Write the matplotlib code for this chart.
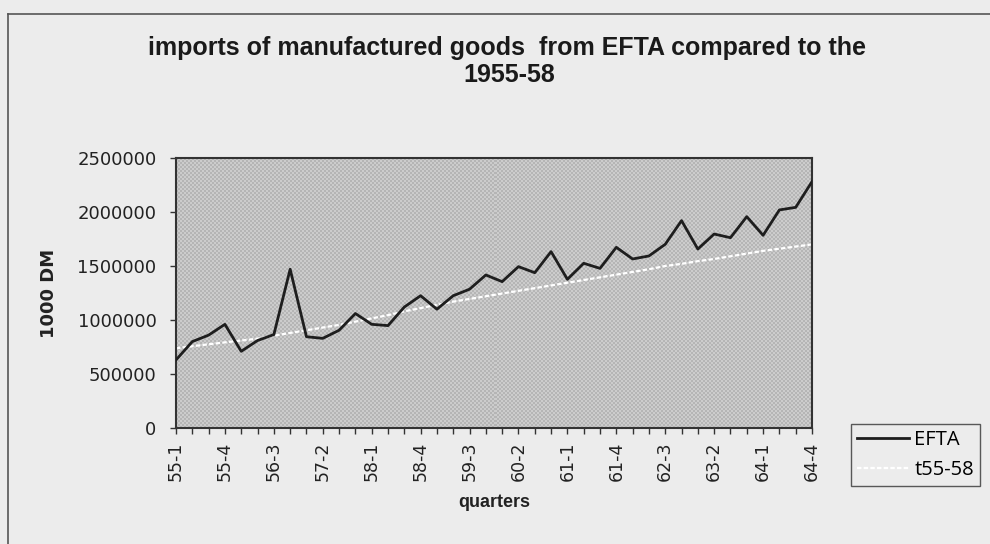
import numpy as np
import matplotlib.pyplot as plt
from matplotlib.lines import Line2D

# quarterly imports of manufactured goods from EFTA, 1000 DM
years = list(range(55, 65))
quarters = [f"{y}-{q}" for y in years for q in range(1, 5)]

efta = [630000, 800000, 860000, 960000, 710000, 810000, 865000, 1470000,
        845000, 830000, 905000, 1060000, 960000, 948000, 1120000, 1225000,
        1100000, 1225000, 1285000, 1417000, 1355000, 1494000, 1438000, 1633000,
        1377000, 1525000, 1478000, 1673000, 1565000, 1593000, 1701000, 1920000,
        1657000, 1796000, 1762000, 1957000, 1784000, 2019000, 2043000, 2281000]

# trend fitted on 1955-58
t55_58 = [738000, 757000, 775000, 793000, 810000, 827000, 855000, 880000,
          905000, 930000, 955000, 985000, 1015000, 1045000, 1080000, 1110000,
          1140000, 1170000, 1195000, 1220000, 1245000, 1270000, 1295000, 1320000,
          1345000, 1370000, 1395000, 1420000, 1445000, 1470000, 1500000, 1520000,
          1545000, 1565000, 1590000, 1615000, 1640000, 1660000, 1680000, 1700000]

yticks = [0, 500000, 1000000, 1500000, 2000000, 2500000]

bg = '#ececec'
fig = plt.figure(figsize=(9.9, 5.44), dpi=100, facecolor=bg)
ax = fig.add_axes([176 / 990, 1 - 428 / 544, 636 / 990, 270 / 544])
ax.set_facecolor('#bcbcbc')

# stippled plot-area fill
w, h = 636, 270
ii, jj = np.indices((h, w))
stipple = np.where(((ii // 2) + (jj // 2)) % 2 == 0, 0.71, 0.80)
ax.imshow(stipple, cmap='gray', vmin=0, vmax=1, extent=(0, len(quarters) - 1, 0, 2500000),
          aspect='auto', interpolation='nearest', zorder=0)

x = np.arange(len(quarters))
ax.plot(x, efta, color='#1e1e1e', linewidth=2, label='EFTA', zorder=3)
ax.plot(x, t55_58, color='white', linewidth=1.6, linestyle=(0, (2, 1)), label='t55-58', zorder=2)

ax.set_xlim(0, len(quarters) - 1)
ax.set_ylim(0, 2500000)
ax.set_yticks(yticks)
ax.set_yticklabels([str(v) for v in yticks], fontsize=13, color='#222222')
ax.set_xticks(x, minor=True)
ax.set_xticks(x[::3])
ax.set_xticklabels(quarters[::3], rotation=90, fontsize=12.5, color='#222222')
ax.tick_params(axis='both', which='both', direction='out', length=4, width=1, color='#333333')
ax.tick_params(axis='x', which='major', pad=6)
ax.tick_params(axis='y', which='major', pad=10)

for s in ax.spines.values():
    s.set_color('#333333')
    s.set_linewidth(1.5)

ax.set_ylabel('1000 DM', fontsize=13, fontweight='bold', labelpad=14, color='#222222')
ax.set_xlabel('quarters', fontsize=13, fontweight='bold', color='#222222',
              family='Liberation Sans', labelpad=9)

title_font = dict(ha='center', va='center', fontsize=18, fontweight='bold',
                  family='Liberation Sans', color='#1a1a1a')
fig.text(0.512, 0.912, 'imports of manufactured goods  from EFTA compared to the', **title_font)
fig.text(0.514, 0.862, '1955-58', **title_font)

leg = fig.legend(loc='upper left', bbox_to_anchor=(851 / 990, 1 - 424 / 544),
                 borderaxespad=0, frameon=True, fancybox=False, handlelength=2.6,
                 handletextpad=0.25, borderpad=0.3, labelspacing=0.5,
                 prop={'family': 'Open Sans', 'size': 14.5})
leg.get_frame().set_edgecolor('#333333')
leg.get_frame().set_facecolor(bg)
leg.get_frame().set_linewidth(1)

# chart border (top and left edges)
fig.add_artist(Line2D([8 / 990, 1], [1 - 13.5 / 544, 1 - 13.5 / 544], color='#555555', linewidth=1.2))
fig.add_artist(Line2D([8 / 990, 8 / 990], [0, 1 - 13.5 / 544], color='#555555', linewidth=1.2))

fig.savefig('out.png', dpi=100, facecolor=bg)
